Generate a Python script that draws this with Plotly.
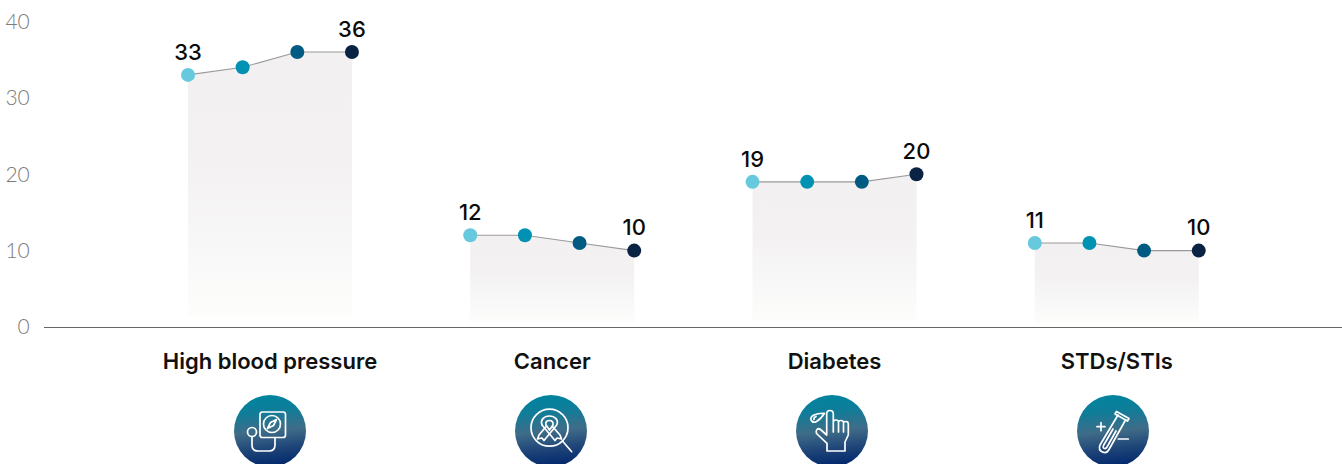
import base64
import plotly.graph_objects as go

categories = ["High blood pressure", "Cancer", "Diabetes", "STDs/STIs"]
high_blood_pressure = [33, 34, 36, 36]
cancer = [12, 12, 11, 10]
diabetes = [19, 19, 19, 20]
stds_stis = [11, 11, 10, 10]
series = [high_blood_pressure, cancer, diabetes, stds_stis]
y_ticks = [0, 10, 20, 30, 40]
wave_colors = ["#66C9DE", "#0091B3", "#005A82", "#0A2344"]

W, H = 1342, 464
PL, PB = 44, 137          # plot area margins
PLOT_W, PLOT_H = W - PL, H - PB
STEP = 54.65              # px between points in a group
GROUP_STEP = 5.165        # slots between groups
X0 = 188                  # px of first point
FONT = "Inter"


def icon_svg(body):
    svg = f'''<svg xmlns="http://www.w3.org/2000/svg" width="72" height="72" viewBox="0 0 72 72">
<defs><linearGradient id="g" x1="0.45" y1="0" x2="0.55" y2="1">
<stop offset="0" stop-color="#00849F"/><stop offset="0.22" stop-color="#0F7D99"/>
<stop offset="0.5" stop-color="#3F6C88"/><stop offset="0.75" stop-color="#1E4478"/>
<stop offset="1" stop-color="#00266C"/></linearGradient></defs>
<circle cx="36" cy="36" r="36" fill="url(#g)"/>
<g fill="none" stroke="#fff" stroke-width="1.7" stroke-linecap="round" stroke-linejoin="round">{body}</g></svg>'''
    return "data:image/svg+xml;base64," + base64.b64encode(svg.encode()).decode()


icons = [
    # gauge + stethoscope
    '<rect x="26" y="17" width="25.5" height="25.5" rx="2.5"/><circle cx="38" cy="29" r="8.5"/>'
    '<path d="M33.5 33.5 L36.5 27.5 L42.5 24.5 L39.5 30.5 Z"/>'
    '<circle cx="18" cy="37" r="4.5"/><path d="M18 41.5 V50 Q18 56 24 56 H35 Q41 56 41 50 V42.5"/>',
    # ribbon + magnifier
    '<circle cx="34.5" cy="32.7" r="18.5"/><path d="M47.5 46 L56.7 56.7"/>'
    '<path d="M27 30 C25 25 29 21 34.3 21 C40 21 44 25 41.7 30 L29 45.5 L27 43 L22.5 44 L24 40 L31.5 31"/>'
    '<path d="M27 30 L40 45.5 L42 43 L46.5 44 L45 40 L37.5 31.5"/>'
    '<path d="M31 30 C30 27 32 25.5 34.3 25.5 C37 25.5 38.5 27 38 30 L34.5 35 Z"/>',
    # finger + droplet
    '<path d="M28.5 18.3 Q22 18 18 20 Q14 22 15 25 Q17 28.5 20.5 26.5 Q25 24 28.5 18.3 Z"/>'
    '<path d="M20 21.5 Q17.5 22.5 18 24.5"/>'
    '<path d="M30.7 40 V19 Q30.7 15.5 34 15.5 Q37.3 15.5 37.3 19 V37 M37.3 27 Q37.3 25 40 25 Q42.5 25 42.5 27 V37 '
    'M42.5 27 Q42.5 25.5 45 25.5 Q47.5 25.5 47.5 27.5 V37 M47.5 28 Q47.5 26.5 50 26.5 Q52.3 26.5 52.3 29 V40 '
    'L49 47 V56 H31 V48.3 L20.5 38.5 Q19.5 36 21 34.5 Q22.5 33 24.5 34.5 L30.7 40"/>',
    # test tube + plus/minus
    '<path d="M20 31.7 H28 M24 27.7 V35.7 M41.3 44 H51.3"/>'
    '<path d="M39.5 16.5 L52 23.5 L50.5 26 L38 19 Z"/>'
    '<path d="M41 20 L23 50 Q21 55 25.5 57 Q29.5 59 32 54.5 L48.5 25"/>'
    '<path d="M36 34 L26.5 50.5 Q25.5 53 27.5 53.5 Q29 54 30 52 L39 36"/>',
]
icon_centers = [270, 551, 832, 1113]
ICON_Y = 431

fig = go.Figure()
for g, (name, vals) in enumerate(zip(categories, series)):
    xs = [g * GROUP_STEP + i for i in range(len(vals))]
    fig.add_trace(go.Scatter(
        x=xs, y=vals, mode="lines", name=name,
        line=dict(color="#9A9A9A", width=1.1), fill="tozeroy",
        fillgradient=dict(type="vertical", start=0, stop=max(vals),
                          colorscale=[[0, "#FFFFFF"], [0.03, "#FFFFFF"], [0.04, "#FDFDFC"],
                                      [0.6, "#F3F1F2"], [1, "#F2F0F1"]]),
        hoverinfo="skip", showlegend=False, cliponaxis=False))
    fig.add_trace(go.Scatter(
        x=xs, y=vals, mode="markers+text", name=name,
        marker=dict(color=wave_colors, size=14, line=dict(width=0)),
        text=[str(v) if i in (0, len(vals) - 1) else "" for i, v in enumerate(vals)],
        textposition="top center",
        textfont=dict(family=FONT, size=22, color="#0B0B0B", weight=500),
        showlegend=False, cliponaxis=False))

fig.update_layout(
    width=W, height=H, margin=dict(l=PL, r=0, t=0, b=PB, pad=0),
    paper_bgcolor="white", plot_bgcolor="white", font=dict(family=FONT),
    xaxis=dict(
        range=[(PL - X0) / STEP, (W - X0) / STEP], showgrid=False, zeroline=False,
        showline=False, tickmode="array",
        tickvals=[g * GROUP_STEP + 1.5 for g in range(len(categories))],
        ticktext=categories,
        tickfont=dict(family=FONT, size=22, color="#111111", weight=600),
        ticks="outside", ticklen=15, tickcolor="rgba(0,0,0,0)",
    ),
    yaxis=dict(
        range=[0, PLOT_H / 7.64], showgrid=False, zeroline=True, zerolinecolor="#666666",
        zerolinewidth=1, showline=False, tickmode="array", tickvals=y_ticks,
        tickfont=dict(family="Lato", size=21, color="#7C7C7C", weight=300),
        ticks="outside", ticklen=9, tickcolor="rgba(0,0,0,0)",
    ),
    images=[dict(source=icon_svg(b), xref="paper", yref="paper",
                 x=(cx - PL) / PLOT_W, y=(PLOT_H - (ICON_Y - 36)) / PLOT_H,
                 sizex=72 / PLOT_W, sizey=72 / PLOT_H, xanchor="center", yanchor="top",
                 sizing="stretch", layer="above")
            for b, cx in zip(icons, icon_centers)],
)
fig.write_html("out.html", config=dict(displayModeBar=False),
               post_script="document.body.style.margin='0';document.documentElement.style.overflow='hidden';")
